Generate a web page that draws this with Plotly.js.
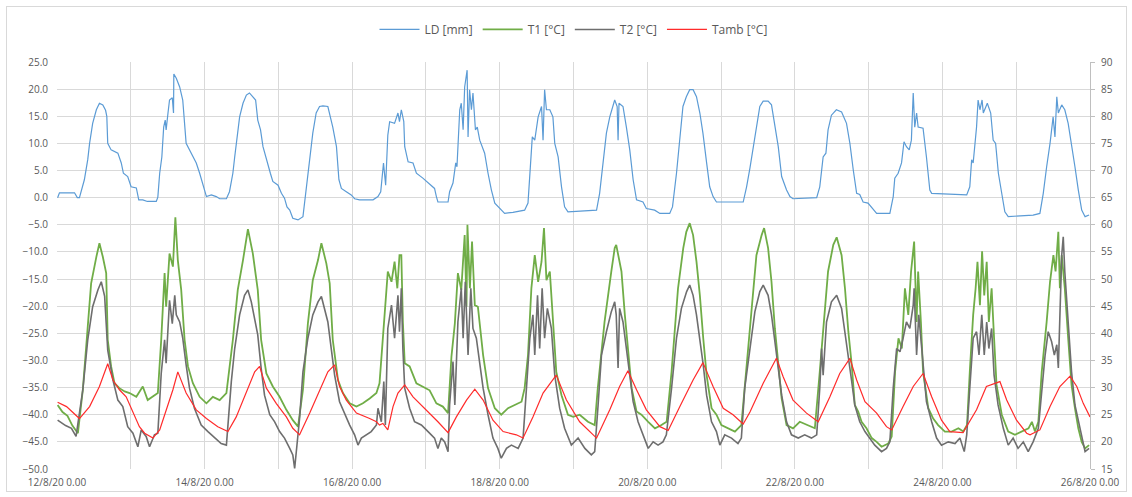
<!DOCTYPE html>
<html>
<head>
<meta charset="utf-8">
<script src="https://cdn.plot.ly/plotly-3.0.1.min.js"></script>
<style>
  html, body { margin: 0; padding: 0; background: #ffffff; }
  #wrap { position: relative; width: 1132px; height: 497px; overflow: hidden; }
  #chart { position: absolute; left: 0; top: 0; width: 1132px; height: 497px; }
  #frame { position: absolute; left: 6px; top: 6px; width: 1119px; height: 484px; border: 1px solid #d9d9d9; pointer-events: none; }
</style>
</head>
<body>
<div id="wrap"><div id="chart"></div><div id="frame"></div></div>
<script>
// Time in hours since 12/8/20 0.00
const tickHours = [0, 48, 96, 144, 192, 240, 288, 336];
const tickLabels = ["12/8/20 0.00", "14/8/20 0.00", "16/8/20 0.00", "18/8/20 0.00", "20/8/20 0.00", "22/8/20 0.00", "24/8/20 0.00", "26/8/20 0.00"];

// LD [mm] (left axis)
const ldHours = [0.2,0.8,5.7,6.6,7.3,8.9,10.0,10.6,11.6,12.8,13.8,14.9,15.8,16.2,16.5,17.6,19.8,20.9,21.6,23.0,24.1,25.8,26.6,27.9,29.4,32.3,32.8,33.4,34.1,34.7,35.2,35.5,36.1,36.6,37.5,37.9,38.0,38.8,39.9,40.9,42.0,43.7,45.3,46.4,47.4,48.6,50.2,51.8,52.9,55.1,56.1,57.2,57.8,58.5,59.4,60.5,61.6,62.6,63.7,64.6,65.3,66.2,67.0,68.1,69.4,70.2,71.9,73.0,74.0,74.8,75.7,76.7,78.4,80.0,81.1,82.2,83.2,84.3,85.4,86.5,88.1,89.7,90.9,91.7,92.5,94.1,95.7,96.8,98.4,102.8,104.4,105.3,106.2,106.9,107.6,108.2,109.8,110.9,111.4,112.0,112.8,113.1,114.2,115.8,116.9,119.0,120.7,122.8,123.4,123.9,127.2,127.7,128.8,129.7,130.1,131.0,131.5,132.1,132.6,133.4,133.7,134.2,134.8,135.3,136.1,136.7,137.5,139.1,140.2,141.3,142.4,144.0,145.6,148.3,152.1,153.2,154.0,154.6,155.4,156.5,157.6,158.1,158.6,159.2,160.3,161.3,161.9,163.0,164.1,165.1,166.2,175.5,176.5,177.6,178.7,179.8,180.9,181.4,182.2,182.5,182.8,184.1,185.2,186.3,187.4,188.5,190.6,191.7,194.4,196.1,199.3,200.2,201.5,202.6,203.6,204.7,205.8,206.9,208.0,209.1,210.1,211.3,212.3,213.4,214.5,223.2,224.3,225.4,227.5,228.6,229.7,231.3,232.4,233.5,234.6,235.7,237.3,238.4,239.4,247.1,248.1,249.2,250.1,250.8,251.9,253.5,255.2,256.8,257.9,259.0,260.1,261.1,262.2,263.8,264.9,266.6,270.9,272.0,272.5,273.6,274.7,275.5,276.3,277.2,277.9,278.5,279.0,279.6,280.1,281.7,282.8,283.9,284.5,295.9,296.9,297.5,298.0,299.1,299.6,300.2,300.9,301.3,302.6,303.7,304.5,305.3,306.2,307.3,308.3,309.4,317.5,319.7,320.8,321.9,323.0,324.0,324.6,325.2,325.7,326.8,327.8,328.9,330.0,331.1,332.2,333.3,334.4,335.7];
const ldValues = [0,0.9,0.9,0,0,3.3,7,10,13.7,16.2,17.4,17.1,16.1,15,10,8.8,8.2,6.4,4.5,3.9,2,1.8,-0.4,-0.4,-0.7,-0.7,0.1,4.5,7.5,13,14.3,12.5,15.6,18,18.4,15.6,22.8,22,20.4,18,10,8.2,6.4,4.5,2.7,0.2,0.5,0.2,-0.2,-0.2,1.1,4.5,7.5,11.2,14.9,17.4,18.9,19.3,18.6,18,14.3,12.5,9.4,7,4.5,3,2.3,0.8,-0.1,-1.7,-2.3,-3.8,-4.1,-3.5,2,7,11.9,15.6,16.8,16.9,16.8,13,9.4,3.3,1.7,1.1,0.5,-0.2,-0.4,-0.4,0.2,1.1,6.4,2.3,11.5,14,13.7,15.6,14,16.2,14,9.4,6.6,6.4,4.5,3.6,2.7,1.7,0.2,-0.8,-0.8,1.1,2.7,6.4,5.7,16.2,17.4,12.5,20.4,23.5,11.2,19.9,16.2,19.3,12.5,13,10.6,8.2,4.5,1.4,-1,-2,-2.9,-2.7,-2.3,-1,5.7,11.2,10.6,14.9,16.8,10.6,19.9,16.2,16.2,14.9,10,7.5,2,-1.7,-2.6,-2.3,0.8,7,11.9,14.9,16.8,18,16.8,10.6,17.4,16.8,13,8.8,3.3,-0.4,-0.8,-2,-2.3,-2.9,-2.9,-1.7,4.5,10.6,16.8,18.6,19.9,19.9,18.6,15.6,11.9,6.4,2,0.2,-0.8,-0.8,2,5.5,13,16.8,17.8,17.8,17.1,13,9.4,3.9,1.4,0.2,-0.2,0,2,7.5,8.2,12.5,15.2,16.2,15.8,13.7,10,5.1,0.8,0.6,-0.8,-1,-1.7,-2.9,-2.9,0.2,3.6,4.5,6.4,10.3,9.4,8.8,10.6,19.3,13,15.6,13,12.8,7.5,1.4,0.8,0.5,2,7,6.4,13,18,16.2,18,15.6,17.4,15.6,10.6,10,4.5,0.8,-2.6,-3.5,-3.2,-2.9,0.8,5.7,10,14.9,11.2,18.6,15.6,17.1,16.2,13.7,10,5.7,1.4,-2.3,-3.5,-3.2];

// T1 [°C] (right axis)
const t1Hours = [0.2,1.8,3.4,5.0,6.8,8.4,10.0,11.1,12.8,13.8,14.9,16.0,16.5,17.6,18.7,20.3,22.0,23.6,25.8,27.9,29.5,31.2,32.8,33.9,35.0,35.5,36.6,37.7,38.5,39.3,40.4,41.5,42.6,44.2,46.4,48.6,50.7,52.9,55.1,57.2,58.8,60.5,62.1,63.7,65.3,66.4,68.1,70.2,72.4,74.6,76.7,78.4,80.0,81.6,83.2,84.9,86.0,87.6,88.7,89.7,91.4,93.0,95.2,97.4,99.5,101.7,103.9,104.9,106.5,107.6,108.8,109.8,110.7,111.4,112.0,112.5,113.1,114.7,116.9,119.0,121.2,123.4,125.5,127.2,128.3,129.4,130.4,131.5,132.6,133.2,133.5,134.3,135.0,135.9,136.9,138.6,140.2,142.4,144.5,146.7,148.9,151.1,152.1,153.2,154.3,155.4,156.5,157.6,158.4,159.2,160.3,161.3,162.4,164.1,166.2,167.9,170.0,172.7,174.9,175.9,178.1,180.3,181.4,181.9,182.5,183.6,184.7,185.8,186.9,188.5,190.1,192.3,194.5,196.6,198.3,199.9,202.0,203.7,204.7,205.8,206.9,208.0,209.1,210.2,211.3,212.9,214.5,216.1,218.3,220.5,222.6,224.3,225.9,227.5,229.2,230.0,231.3,232.4,233.5,234.6,235.7,237.3,239.4,241.6,243.8,246.5,248.1,249.2,250.8,252.5,253.6,255.2,256.3,257.4,258.5,259.5,260.6,261.7,263.3,265.0,266.6,268.2,270.4,271.5,272.6,273.7,274.8,275.8,276.9,277.8,278.8,279.6,280.1,281.0,281.7,283.4,285.0,286.6,288.8,291.0,293.2,294.8,296.0,296.9,298.0,298.8,299.4,300.2,300.9,301.6,302.4,303.1,304.0,304.8,305.6,307.3,309.4,311.6,313.8,316.0,317.1,318.1,319.2,320.3,321.9,323.0,324.1,324.8,325.7,326.2,326.8,327.8,328.9,330.0,331.1,332.2,333.3,334.4,335.7];
const t1Values = [26.8,25.5,24.8,23,21.6,29.6,41.2,49.2,54.1,56.6,54.1,51.1,38.8,33.9,30.8,29.9,29.3,29,28.3,30.2,27.7,28.3,29,38.8,51.1,44.9,54.7,52.3,61.4,53.5,48,38.8,33.9,30.8,28.3,27.1,28.3,27.7,29,38.8,48,53.5,59.2,54.7,48,38.8,32.6,30.2,28.3,25.9,24,22.8,29.6,41.8,49.8,53.5,56.6,52.9,49.2,38.8,31.4,29,27.1,26.5,27.1,28,29,30.8,42.1,51.4,49.5,53.2,48.3,54.4,54.4,42.1,34.5,33.9,30.8,30.2,29.5,27.1,26.5,25.3,35.7,41.8,51.1,48,58.1,44.9,60,48.3,56.9,45.2,44.9,36,29.9,26.2,25,26.2,26.8,27.4,29.9,36,48.3,54.4,49.5,53.2,59.4,49.8,51.4,42.1,32.9,28.6,25,24.6,25,23.7,23.1,29.9,42.1,51.4,55.7,56.3,54.4,51.4,43.4,36,29.9,25.6,25,23.7,22.5,23.1,23.7,32.9,48.3,55.7,58.7,60.3,58.1,53.2,47,39.1,32.3,26.2,25,23.1,22.5,21.9,23.1,33.9,45.2,54.4,58.1,59.4,55.7,49.5,40.9,34.8,28,23.1,22.5,23.7,23.1,22.5,32.9,40.9,51.4,56.3,57.7,54.4,48.3,40.3,34.2,26.8,25.6,23.7,22.5,20.7,20,19.1,19.7,21,32.9,39.1,37.2,48.3,43.4,51.4,56.9,42.1,51.4,42.1,32.9,26.2,24.3,23.1,21.9,21.9,22.5,21.9,23.1,32.9,43.4,48.3,53.2,45.2,55.1,47,53.2,42.1,48.3,39.1,30.5,25,21.9,21.3,21.9,22.5,23.7,21.9,23.7,32.9,42.1,49.5,54.4,51.4,58.7,48.3,54.4,48.3,39.1,30.5,26.2,22.5,20,18.8,19.4];

// T2 [°C] (right axis)
const t2Hours = [0.2,2.8,4.7,6.2,8.4,10.0,11.6,13.3,14.4,15.5,16.0,16.5,18.2,19.8,21.4,23.0,24.7,26.3,27.4,29.0,30.1,31.7,32.8,33.9,35.0,35.5,36.6,37.5,38.3,38.8,39.9,40.9,42.0,43.1,44.7,46.9,49.1,51.3,53.4,55.1,55.6,56.7,57.8,59.4,61.0,62.1,63.2,64.3,65.3,66.4,67.5,69.2,70.8,72.4,74.0,75.7,76.7,77.3,77.8,78.9,80.0,81.6,83.2,84.9,86.0,87.0,88.1,89.2,90.3,91.9,93.6,95.2,96.8,97.9,99.0,100.6,102.2,103.9,104.4,105.5,106.3,106.8,107.6,108.8,109.8,110.9,111.4,112.0,112.5,113.1,114.7,116.3,118.5,120.7,122.8,123.9,125.0,126.1,127.2,127.7,128.8,129.4,130.4,131.5,132.1,132.8,133.7,134.6,135.3,136.4,137.5,138.6,140.2,141.8,143.4,144.5,146.2,147.8,150.0,151.6,152.7,153.8,154.8,155.4,156.3,157.0,157.8,158.6,159.5,160.8,161.9,163.5,165.1,167.3,169.5,171.7,173.8,174.9,176.0,177.1,178.7,180.3,181.4,181.9,182.5,183.0,184.1,185.2,186.3,187.4,189.0,190.6,192.3,193.9,195.5,197.1,198.2,199.9,201.5,203.1,204.8,205.8,206.9,208.0,209.1,210.2,211.3,212.9,214.5,215.6,217.2,219.4,221.5,222.6,223.7,225.4,227.0,228.6,229.7,231.3,232.4,233.5,234.6,235.7,237.3,238.9,241.1,243.2,245.4,247.1,248.1,248.7,249.2,250.3,251.9,253.6,255.2,256.3,257.4,258.5,259.5,261.1,262.8,264.4,266.0,268.2,269.8,270.9,272.0,273.1,274.2,275.2,276.3,277.4,278.5,278.8,279.6,280.3,281.0,281.7,282.8,284.5,286.1,287.7,289.9,292.1,293.7,295.1,295.9,296.9,298.0,299.1,299.9,300.8,301.6,302.4,303.1,304.0,304.8,306.1,307.8,309.4,311.0,312.6,314.3,315.9,317.5,319.2,320.3,321.4,322.4,323.5,324.4,325.2,325.7,326.2,326.8,327.3,327.8,328.9,330.0,331.1,332.2,333.3,334.4,335.7];
const t2Values = [24,23,22.5,21,29.6,38.8,44.9,48,49.5,46.8,41.8,36.9,31.4,27.7,26.5,22.8,21.6,19.1,22.2,21,19.1,21.3,21.6,32.6,38.8,34.5,46.1,41.8,47,43.4,42.1,39.1,34.2,29.9,26.2,23.1,21.9,20.7,19.7,19.4,23.7,31.1,37.2,43.4,47,48,45.8,42.8,39.7,33.6,28.6,25,23.7,21.9,20.7,18.8,17.6,15.1,18.2,24.3,32.9,39.1,43.4,45.8,46.8,44.6,42.1,37.2,32.3,27.4,25,23.1,21.3,19.4,20.7,21.3,21.9,23.1,26.2,23.7,31.1,23.1,40.9,45.2,39.1,47,40.3,48.3,37.2,29.9,26.2,23.7,23.1,21.9,20.7,18.8,20.7,20,18.2,26.8,34.8,26.8,42.1,48.3,39.1,49.5,36,48.3,40.9,39.1,34.8,29.9,25,20.7,18.8,17,18.8,19.4,18.8,20.7,29.9,39.1,43.4,36,47,37.2,48.3,39.1,44.6,40.9,32.3,26.2,22.5,19.4,20.7,18.8,17.6,18.2,26.8,36,40.3,44,45.8,43.4,33.6,44.6,42.1,37.2,32.3,27.4,23.7,21.3,18.8,20,19.4,20,21.3,29.9,39.1,44.6,47.7,48.9,47,43.4,39.1,34.2,28.6,23.7,21.9,19.4,21.3,20.7,19.7,20.7,29.9,37.2,44,47.7,48.9,47,43.4,38.5,33.6,28.6,23.7,21.3,20.7,21.3,20.7,21.3,29.9,37.2,32.3,42.1,45.8,47,44.6,40.3,36,31.1,26.8,23.7,21.9,20.7,19.4,18.2,18.8,20,29.9,37.2,36.6,39.1,42.1,40.9,45.2,48.3,36,43.4,39.1,33.6,27.4,23.7,20.7,19.4,20,19.7,20.7,18.2,21.3,29.9,39.1,40.3,36,43.4,36,42.1,37.2,40.9,32.3,26.8,22.5,19.4,20.7,18.8,20,18.2,20,22.5,29.9,36,40.3,38.5,36,37.9,33.6,44.6,54.4,57.8,51.4,42.1,32.9,26.8,23.7,20.7,18.2,18.8];

// Tamb [°C] (right axis)
const tambHours = [0.2,3.1,7.3,10.6,13.8,16.5,18.2,20.3,22.5,24.7,26.8,28.5,31.2,33.4,35.5,37.7,39.3,42.0,45.3,48.6,52.3,55.6,58.3,61.6,64.3,65.9,68.1,71.3,74.6,76.7,78.9,82.2,85.4,88.1,90.3,91.9,94.1,97.4,101.7,103.9,104.9,106.0,107.6,109.3,110.9,113.1,115.8,120.1,123.9,127.2,129.9,133.2,135.9,138.6,141.8,145.1,149.4,151.6,154.8,158.1,162.4,165.7,170.0,175.5,179.8,183.0,185.7,188.5,191.7,196.1,198.8,202.6,206.9,210.1,213.4,216.7,219.9,223.2,225.4,229.7,234.0,236.2,239.4,243.8,247.6,251.4,254.6,257.9,260.1,262.8,266.6,269.8,271.5,275.2,278.5,281.7,284.5,287.7,290.4,294.7,299.1,302.3,305.0,306.7,308.9,312.1,315.4,316.5,319.7,323.0,326.2,329.5,331.7,333.8,336.0];
const tambValues = [27.3,26.5,24.3,26.5,30.2,34.4,31.4,29.6,28.3,25.3,22.8,21.6,20.7,22.2,25.9,29.6,32.9,29,25.9,24.3,22.8,21.9,24.6,29,32.9,33.9,29.9,27.1,24.6,22.5,21.3,25.3,29.6,32.9,34.2,30.2,27.7,25.3,24.3,23.7,23.1,23.4,22.2,26.5,29,30.5,28.3,25.9,23.7,21.7,24.6,27.7,29.7,27.7,24,21.9,21.3,20.7,24.6,29,32.3,27.7,23.7,20.7,25.9,30.2,33.1,29.6,25.9,22.8,22.1,26.5,31.4,34.6,30.2,26.2,25,23.3,25.5,30.8,35.4,32,27.7,25.3,23.7,28.3,32.6,35.4,31.4,27.4,25.3,22.8,22.2,26.5,30.2,32.6,28.3,24,21.9,21.7,25.9,30.2,30.8,31.1,27.7,24,21.6,21.3,22.2,26.5,30.2,32.1,30.2,27.1,24.6];

const gridColor = "#d9d9d9";
const labelColor = "#595959";
const font = { family: "Open Sans, Liberation Sans, sans-serif", size: 10, color: labelColor };

const traces = [
  { x: ldHours, y: ldValues, name: "LD [mm]", type: "scatter", mode: "lines", yaxis: "y", line: { color: "#5b9bd5", width: 1.2 } },
  { x: t1Hours, y: t1Values, name: "T1 [°C]", type: "scatter", mode: "lines", yaxis: "y2", line: { color: "#70ad47", width: 1.8 } },
  { x: t2Hours, y: t2Values, name: "T2 [°C]", type: "scatter", mode: "lines", yaxis: "y2", line: { color: "#6e6e6e", width: 1.6 } },
  { x: tambHours, y: tambValues, name: "Tamb [°C]", type: "scatter", mode: "lines", yaxis: "y2", line: { color: "#ff2b2b", width: 1.2 } }
];

const layout = {
  width: 1132, height: 497,
  margin: { l: 57, r: 42, t: 62, b: 28, pad: 0 },
  paper_bgcolor: "#ffffff", plot_bgcolor: "#ffffff",
  font: font,
  showlegend: true,
  legend: { orientation: "h", x: 0.5, xanchor: "center", y: 1.08, yanchor: "middle", font: { family: font.family, size: 12, color: labelColor }, itemwidth: 40, tracegroupgap: 0 },
  xaxis: {
    range: [0, 336], tickmode: "array", tickvals: tickHours, ticktext: tickLabels,
    showgrid: true, gridcolor: gridColor, gridwidth: 1, zeroline: false,
    showline: false, ticks: "", ticklabelstandoff: 6, tickfont: font,
    minor: { tickmode: "linear", tick0: 0, dtick: 24, showgrid: true, gridcolor: gridColor, gridwidth: 1, ticks: "" }
  },
  yaxis: {
    range: [-50, 25], dtick: 5, tick0: -50, tickformat: ".1f",
    showgrid: true, gridcolor: gridColor, gridwidth: 1, zeroline: false,
    showline: false, ticks: "", ticklabelstandoff: 8, tickfont: font
  },
  yaxis2: {
    range: [15, 90], dtick: 5, tick0: 15, overlaying: "y", side: "right",
    showgrid: false, zeroline: false, showline: true, linecolor: "#bfbfbf", linewidth: 1,
    ticks: "outside", ticklen: 4, tickcolor: "#bfbfbf", ticklabelstandoff: 4, tickfont: font
  }
};

Plotly.newPlot("chart", traces, layout, { staticPlot: true, displayModeBar: false });
</script>
</body>
</html>
